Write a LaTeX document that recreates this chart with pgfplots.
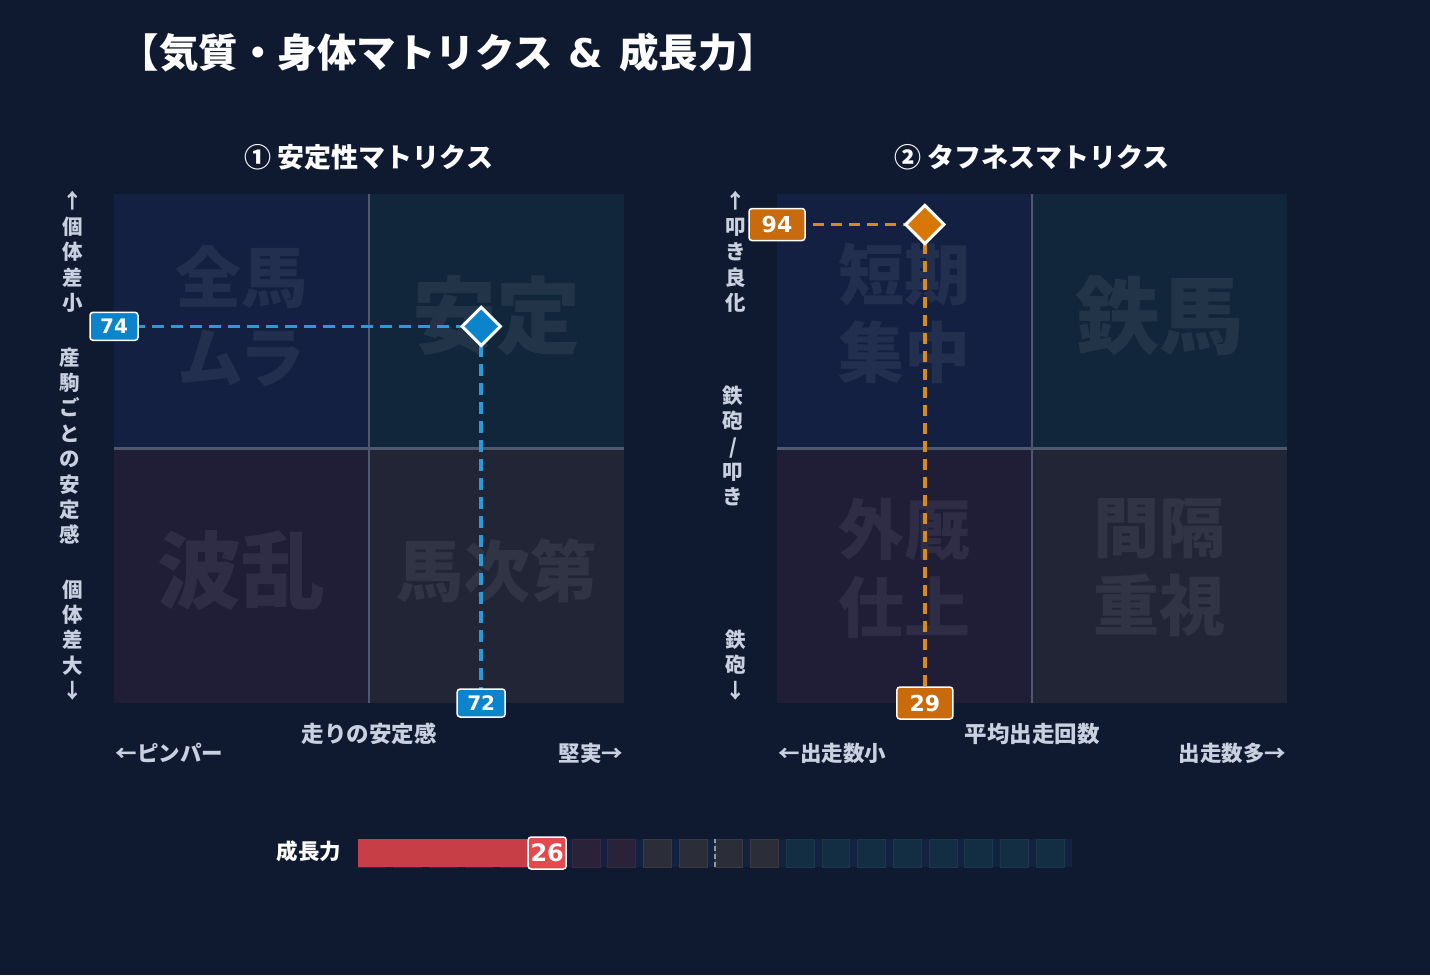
\documentclass[border=0pt]{standalone}
\usepackage{pgfplots}
\pgfplotsset{compat=1.18}
\usepackage{fontspec}
\setmainfont{Noto Sans CJK JP}
\newfontfamily\numfont{DejaVu Sans}

\definecolor{bg}{HTML}{0F1A31}
\definecolor{qtl}{HTML}{132041}
\definecolor{qtr}{HTML}{12263B}
\definecolor{qbl}{HTML}{201E37}
\definecolor{qbr}{HTML}{212536}
\definecolor{midln}{HTML}{4F586E}
\definecolor{bline}{HTML}{2C9AD8}
\definecolor{bbox}{HTML}{0B84CB}
\definecolor{oline}{HTML}{D98A1C}
\definecolor{obox}{HTML}{C96A0C}
\definecolor{ofill}{HTML}{D97706}
\definecolor{track}{HTML}{142241}
\definecolor{cellP}{HTML}{2A2238}
\definecolor{cellPb}{HTML}{3A2842}
\definecolor{cellG}{HTML}{2B2E38}
\definecolor{cellGb}{HTML}{3A3A3C}
\definecolor{cellT}{HTML}{132D42}
\definecolor{cellTb}{HTML}{1A3A4C}
\definecolor{barred}{HTML}{D14048}
\definecolor{lbred}{HTML}{E5484D}
\definecolor{axtxt}{HTML}{C9D1E0}

\newcommand{\fs}[2]{\fontsize{#1}{#2}\selectfont}

\pgfplotsset{
  quad/.style={scale only axis, width=510pt, height=509pt,
    xmin=0, xmax=100, ymin=0, ymax=100, hide axis, clip=false,
    anchor=north west},
  valbox/.style={draw=none, nodes near coords, point meta=explicit symbolic,
    nodes near coords align=center,
    every node near coord/.append style={anchor=center, text=white,
      draw=white, line width=1.5pt, rounded corners=3pt, inner sep=0pt,
      fill=#1}},
}

\begin{document}
\begin{tikzpicture}
\path[use as bounding box] (0,0) rectangle (1430pt,-975pt);
\fill[bg] (0,0) rectangle (1430pt,-975pt);

% titles
\node[anchor=west, text=white, font=\bfseries\fs{39.5}{39.5}] at (116pt,-53pt)
  {【気質・身体マトリクス\hspace{16pt}{\numfont\&}\hspace{16pt}成長力】};
\node[text=white, font=\bfseries\fs{27}{27}] at (369pt,-157pt) {①\hspace{6pt}安定性マトリクス};
\node[text=white, font=\bfseries\fs{27}{27}] at (1032pt,-157pt) {②\hspace{6pt}タフネスマトリクス};

% ---------- matrix 1 ----------
\begin{axis}[quad, at={(114pt,-194pt)}]
  \fill[qtl] (axis cs:0,50) rectangle (axis cs:50,100);
  \fill[qtr] (axis cs:50,50) rectangle (axis cs:100,100);
  \fill[qbl] (axis cs:0,0) rectangle (axis cs:50,50);
  \fill[qbr] (axis cs:50,0) rectangle (axis cs:100,50);
  \draw[midln, line width=2.5pt] (axis cs:50,0) -- (axis cs:50,100);
  \draw[midln, line width=2.5pt] (axis cs:0,50) -- (axis cs:100,50);
  \node[text=white, text opacity=0.07, align=center, font=\bfseries\fs{66}{80}]
    at (axis cs:25,76) {全馬\\ムラ};
  \node[text=white, text opacity=0.07, font=\bfseries\fs{84}{84}]
    at (axis cs:75,76) {安定};
  \node[text=white, text opacity=0.07, font=\bfseries\fs{84}{84}]
    at (axis cs:25,26) {波乱};
  \node[text=white, text opacity=0.07, font=\bfseries\fs{67}{67}]
    at (axis cs:75,26) {馬次第};

  \addplot[bline, line width=3.5pt, dash pattern=on 12pt off 7pt]
    coordinates {(0,74) (72,74)};
  \addplot[bline, line width=3.5pt, dash pattern=on 12pt off 7pt]
    coordinates {(72,74) (72,0)};
  \addplot[only marks, mark=square*, mark size=13.5pt,
    mark options={rotate=45, fill=bbox, draw=white, line width=3pt}]
    coordinates {(72,74)};
  \addplot[valbox=bbox, every node near coord/.append style={
      minimum width=48pt, minimum height=28pt, font=\numfont\bfseries\fs{20}{20}}]
    coordinates {(0,74)[74] (72,0)[72]};
\end{axis}

% ---------- matrix 2 ----------
\begin{axis}[quad, at={(777pt,-194pt)}]
  \fill[qtl] (axis cs:0,50) rectangle (axis cs:50,100);
  \fill[qtr] (axis cs:50,50) rectangle (axis cs:100,100);
  \fill[qbl] (axis cs:0,0) rectangle (axis cs:50,50);
  \fill[qbr] (axis cs:50,0) rectangle (axis cs:100,50);
  \draw[midln, line width=2.5pt] (axis cs:50,0) -- (axis cs:50,100);
  \draw[midln, line width=2.5pt] (axis cs:0,50) -- (axis cs:100,50);
  \node[text=white, text opacity=0.07, align=center, font=\bfseries\fs{66}{78}]
    at (axis cs:25,76.5) {短期\\集中};
  \node[text=white, text opacity=0.07, font=\bfseries\fs{84}{84}]
    at (axis cs:75,76) {鉄馬};
  \node[text=white, text opacity=0.07, align=center, font=\bfseries\fs{66}{78}]
    at (axis cs:25,26.5) {外厩\\仕上};
  \node[text=white, text opacity=0.07, align=center, font=\bfseries\fs{66}{78}]
    at (axis cs:75,26.5) {間隔\\重視};

  \addplot[oline, line width=3.5pt, dash pattern=on 11pt off 7pt]
    coordinates {(0,94) (29,94)};
  \addplot[oline, line width=3.5pt, dash pattern=on 11pt off 7pt]
    coordinates {(29,94) (29,0)};
  \addplot[only marks, mark=square*, mark size=13.5pt,
    mark options={rotate=45, fill=ofill, draw=white, line width=3pt}]
    coordinates {(29,94)};
  \addplot[valbox=obox, every node near coord/.append style={
      minimum width=56pt, minimum height=32pt, font=\numfont\bfseries\fs{22}{22}}]
    coordinates {(0,94)[94] (29,0)[29]};
\end{axis}

% axis texts, matrix 1
\node[text=axtxt, align=center, font=\bfseries\fs{20.5}{25.4}] at (73pt,-252pt)
  {↑\\個\\体\\差\\小};
\node[text=axtxt, align=center, font=\bfseries\fs{20.5}{25.4}] at (70pt,-446pt)
  {産\\駒\\ご\\と\\の\\安\\定\\感};
\node[text=axtxt, align=center, font=\bfseries\fs{20.5}{25.4}] at (73pt,-640pt)
  {個\\体\\差\\大\\↓};
\node[text=axtxt, font=\bfseries\fs{22.5}{22.5}] at (369pt,-734pt) {走りの安定感};
\node[text=axtxt, anchor=west, font=\bfseries\fs{21.5}{21.5}] at (112pt,-753pt) {←ピンパー};
\node[text=axtxt, anchor=east, font=\bfseries\fs{21.5}{21.5}] at (627pt,-753pt) {堅実→};

% axis texts, matrix 2
\node[text=axtxt, align=center, font=\bfseries\fs{20.5}{25.4}] at (736pt,-252pt)
  {↑\\叩\\き\\良\\化};
\node[text=axtxt, align=center, font=\bfseries\fs{20.5}{25.3}] at (733pt,-446pt)
  {鉄\\砲\\/\\叩\\き};
\node[text=axtxt, align=center, font=\bfseries\fs{20.5}{25.4}] at (736pt,-665pt)
  {鉄\\砲\\↓};
\node[text=axtxt, font=\bfseries\fs{22.5}{22.5}] at (1032pt,-734pt) {平均出走回数};
\node[text=axtxt, anchor=west, font=\bfseries\fs{21.5}{21.5}] at (775pt,-753pt) {←出走数小};
\node[text=axtxt, anchor=east, font=\bfseries\fs{21.5}{21.5}] at (1290pt,-753pt) {出走数多→};

% ---------- growth gauge ----------
\node[text=white, anchor=east, font=\bfseries\fs{21.5}{21.5}] at (345pt,-851pt) {成長力};
\begin{axis}[at={(358pt,-839pt)}, anchor=north west, scale only axis,
    width=714pt, height=28pt, xmin=0, xmax=100, ymin=0, ymax=1,
    hide axis, clip=false]
  \fill[track] (axis cs:0,0) rectangle (axis cs:100,1);
  \addplot[ybar, bar width=3.9, bar shift=1.95, fill=cellP, draw=cellPb, line width=1pt]
    coordinates {(0,1) (5,1) (10,1) (15,1) (20,1) (25,1) (30,1) (35,1)};
  \addplot[ybar, bar width=3.9, bar shift=1.95, fill=cellG, draw=cellGb, line width=1pt]
    coordinates {(40,1) (45,1) (50,1) (55,1)};
  \addplot[ybar, bar width=3.9, bar shift=1.95, fill=cellT, draw=cellTb, line width=1pt]
    coordinates {(60,1) (65,1) (70,1) (75,1) (80,1) (85,1) (90,1) (95,1)};
  \addplot[xbar, bar width=1, bar shift=0, fill=barred, draw=none, fill opacity=0.95]
    coordinates {(26,0.5)};
  \addplot[draw=gray!80, line width=1.5pt, dash pattern=on 5pt off 3pt]
    coordinates {(50,0) (50,1)};
  \addplot[valbox=lbred, every node near coord/.append style={
      minimum width=38pt, minimum height=32pt, font=\numfont\bfseries\fs{24}{24}}]
    coordinates {(26.5,0.5)[26]};
\end{axis}
\end{tikzpicture}
\end{document}
